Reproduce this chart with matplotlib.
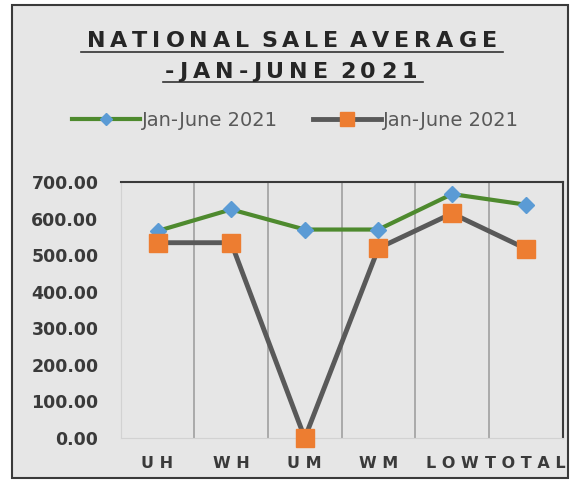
import matplotlib
matplotlib.use("Agg")
import matplotlib.pyplot as plt
from matplotlib.patches import Rectangle
from matplotlib.lines import Line2D

# datos
categorias = ["UH", "WH", "UM", "WM", "LOW", "TOTAL"]
serie_verde = [566, 625, 570, 570, 667, 638]
serie_gris = [534, 534, 0, 519, 614, 518]
etiqueta_serie = "Jan-June 2021"
y_ticks = [0, 100, 200, 300, 400, 500, 600, 700]
titulo_1 = "NATIONAL SALE AVERAGE"
titulo_2 = "-JAN-JUNE 2021"

W, H = 575, 482
FONDO = "#e6e6e6"
OSCURO = "#333333"


def texto_espaciado(fig, s, x_izq, x_der, y_base, **kw):
    # dibuja letra por letra para imitar el espaciado del titulo
    renderer = fig.canvas.get_renderer()
    anchos = []
    for ch in s:
        if ch == " ":
            anchos.append(2.0)  # el espacio entre palabras es casi nulo
            continue
        t = fig.text(0, 0, ch, **kw)
        anchos.append(t.get_window_extent(renderer).width)
        t.remove()
    natural = sum(anchos)
    tracking = (x_der - x_izq - natural) / (len(s) - 1)
    x = x_izq
    for ch, w in zip(s, anchos):
        if ch != " ":
            fig.text(x / W, 1 - y_base / H, ch, ha="left", va="baseline", **kw)
        x += w + tracking


fig = plt.figure(figsize=(W / 100, H / 100), dpi=100, facecolor="white")

# marco del grafico
fig.add_artist(Rectangle(
    (12 / W, 4 / H), (568 - 12) / W, (477 - 4) / H,
    transform=fig.transFigure, facecolor=FONDO,
    edgecolor="#3a3a3a", linewidth=1.5, zorder=-5
))

ax = fig.add_axes([120.7 / W, 1 - 438 / H, (562.5 - 120.7) / W, (438 - 182) / H])
ax.set_facecolor(FONDO)

x = list(range(len(categorias)))
ax.plot(
    x, serie_verde, color="#4e8a2e", linewidth=3,
    marker="D", markersize=8, markerfacecolor="#5b9bd5", markeredgecolor="#5b9bd5",
    label=etiqueta_serie, clip_on=False, zorder=3
)
ax.plot(
    x, serie_gris, color="#595959", linewidth=3.5,
    marker="s", markersize=13, markerfacecolor="#ed7d31", markeredgecolor="#ed7d31",
    label=etiqueta_serie, clip_on=False, zorder=4
)

# lineas verticales entre categorias
for b in range(len(categorias) - 1):
    ax.axvline(b + 0.5, color="#a0a0a0", linewidth=1.2, zorder=1)

ax.set_xlim(-0.5, len(categorias) - 0.5)
ax.set_ylim(0, 700)

ax.spines["top"].set_color("#3a3a3a")
ax.spines["top"].set_linewidth(1.5)
ax.spines["right"].set_color("#3a3a3a")
ax.spines["right"].set_linewidth(1.5)
ax.spines["left"].set_color("#d2d2d2")
ax.spines["bottom"].set_color("#d2d2d2")

ax.set_yticks(y_ticks)
ax.set_yticklabels([f"{v:.2f}" for v in y_ticks], fontsize=12.5,
                   fontweight="bold", color="#3a3a3a")
ax.set_xticks(x)
ax.set_xticklabels([" ".join(c) for c in categorias], fontsize=11.5,
                   fontweight="bold", color="#3a3a3a")
ax.tick_params(axis="y", length=0, pad=16)
ax.tick_params(axis="x", length=0, pad=13)

# leyenda
leg = fig.legend(
    loc="center", bbox_to_anchor=(295 / W, 1 - 120 / H), ncol=2,
    frameon=False, fontsize=14, labelcolor="#595959",
    handlelength=3.5, handletextpad=0.1, columnspacing=1.8, numpoints=1,
    markerscale=0.8
)

# titulo con subrayado
kw_titulo = dict(fontsize=16, fontweight="bold", color="#262626")
texto_espaciado(fig, titulo_1, 86.7, 496.7, 47.3, **kw_titulo)
texto_espaciado(fig, titulo_2, 165, 416.7, 78.3, **kw_titulo)
fig.add_artist(Line2D([80.7 / W, 502.7 / W], [1 - 51.7 / H] * 2,
                      transform=fig.transFigure, color=OSCURO, linewidth=1.2))
fig.add_artist(Line2D([163 / W, 422.7 / W], [1 - 82 / H] * 2,
                      transform=fig.transFigure, color=OSCURO, linewidth=1.2))

fig.savefig("out.png", dpi=100, facecolor="white")
